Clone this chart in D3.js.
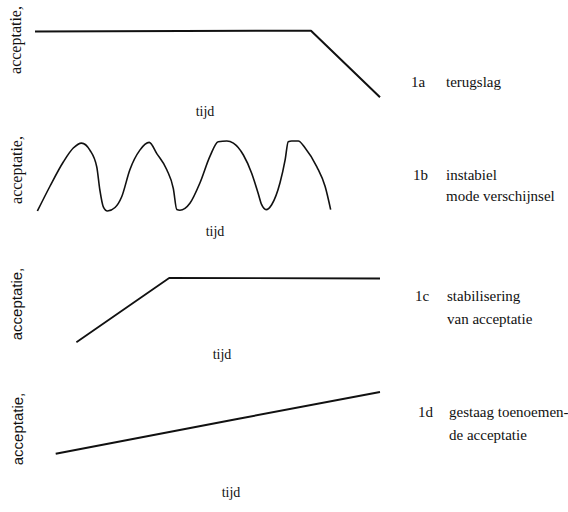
<!DOCTYPE html>
<html>
<head>
<meta charset="utf-8">
<script src="https://cdn.jsdelivr.net/npm/d3@7"></script>
<style>
  body { margin: 0; background: #fff; }
  svg text { fill: #111; }
  .serif { font-family: "Liberation Serif", "DejaVu Serif", serif; }
  .sans { font-family: "Liberation Sans", Arial, sans-serif; }
</style>
</head>
<body>
<svg id="SVGcanvas" width="568" height="512"></svg>
<script>
// data. time 0..100, acceptance 0..100
var panelIds = ["1a", "1b", "1c", "1d"];
var captions = [
    ["terugslag"],
    ["instabiel", "mode verschijnsel"],
    ["stabilisering", "van acceptatie"],
    ["gestaag toenoemen-", "de acceptatie"]
];
var yLabel = "acceptatie,";
var xLabel = "tijd";

var terugslag = [[0, 98], [80, 99], [100, 4]];
var instabiel = [
    [0.7, 0], [4.3, 35], [8.2, 70], [11.1, 90], [13.5, 97], [15.9, 87], [17.9, 63], [18.8, 30],
    [19.8, 6], [21.0, 0], [23.2, 5], [25.1, 20], [27.5, 59], [30.4, 87], [33.1, 98], [35.3, 82],
    [38.2, 59], [40.1, 32], [41.1, 2], [42.0, 1], [44.9, 11], [47.8, 40], [50.7, 78], [53.1, 99],
    [55.6, 100], [57.5, 97], [60.4, 80], [62.8, 54], [64.7, 25], [65.7, 9], [67.0, 2], [68.6, 9],
    [71.0, 40], [72.5, 73], [73.4, 99], [74.4, 100], [76.3, 100], [78.3, 90], [81.7, 63],
    [84.1, 35], [85.7, 2]
];
var stabilisering = [[12, 4], [39, 96], [100, 95]];
var toenemend = [[6, 9], [59, 59], [100, 97]];
var series = [terugslag, instabiel, stabilisering, toenemend];

// layout per panel (pixels)
var layout = [
    { top: 30, bottom: 100, yLab: [21, 40], yFont: "serif", xLab: [205, 116], cap: [87, 0], capX: [411, 446], curve: d3.curveLinear, width: 2 },
    { top: 141, bottom: 211, yLab: [22, 170], yFont: "serif", xLab: [215, 236], cap: [180, 21], capX: [413, 446], curve: d3.curveMonotoneX, width: 1.6 },
    { top: 275, bottom: 345, yLab: [22, 304], yFont: "sans", xLab: [222, 359], cap: [301, 23], capX: [415, 447], curve: d3.curveLinear, width: 1.8 },
    { top: 390, bottom: 460, yLab: [23, 429], yFont: "sans", xLab: [231, 497], cap: [417, 23], capX: [418, 449], curve: d3.curveLinear, width: 2 }
];

var svg = d3.select("#SVGcanvas");
var x = d3.scaleLinear().domain([0, 100]).range([35, 380]);

panelIds.forEach(function(id, i) {
    var l = layout[i];
    var y = d3.scaleLinear().domain([0, 100]).range([l.bottom, l.top]);
    var g = svg.append("g").attr("id", "panel" + id);

    var line = d3.line()
        .x(function(d) { return x(d[0]); })
        .y(function(d) { return y(d[1]); })
        .curve(l.curve);

    g.append("path")
        .datum(series[i])
        .attr("d", line)
        .attr("fill", "none")
        .attr("stroke", "#111")
        .attr("stroke-width", l.width)
        .attr("stroke-linejoin", "round");

    g.append("text")
        .attr("class", l.yFont)
        .attr("transform", "translate(" + l.yLab[0] + "," + l.yLab[1] + ") rotate(-90)")
        .attr("text-anchor", "middle")
        .style("font-size", l.yFont == "sans" ? "15px" : "16px")
        .text(yLabel);

    g.append("text")
        .attr("class", "serif")
        .attr("x", l.xLab[0])
        .attr("y", l.xLab[1])
        .attr("text-anchor", "middle")
        .style("font-size", "14px")
        .text(xLabel);

    g.append("text")
        .attr("class", "serif")
        .attr("x", l.capX[0])
        .attr("y", l.cap[0])
        .style("font-size", "15px")
        .text(id);

    captions[i].forEach(function(c, k) {
        g.append("text")
            .attr("class", "serif")
            .attr("x", l.capX[1])
            .attr("y", l.cap[0] + k * l.cap[1])
            .style("font-size", "15px")
            .text(c);
    });
});
</script>
</body>
</html>
